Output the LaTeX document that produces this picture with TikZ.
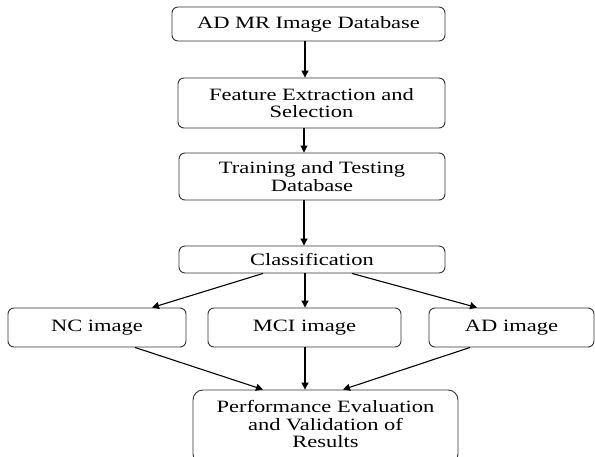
\documentclass[tikz,border=0pt]{standalone}
\usepackage{fontspec}
\setmainfont{Liberation Serif}[FakeStretch=1.3]
\usetikzlibrary{arrows.meta,calc}
\begin{document}
\begin{tikzpicture}[x=1pt,y=-1pt,
  box/.style={draw=black!80,line width=0.9pt,rounded corners=6pt,inner sep=0pt,align=center,
    font=\fontsize{17.3}{17.3}\selectfont},
  arr/.style={line width=1.1pt,-{Triangle[length=7pt,width=7pt]}}]
\clip (0,0) rectangle (595,456);
\fill[white] (0,0) rectangle (595,456);
\node[box,minimum width=273pt,minimum height=34pt] (b1) at (308.5,24) {AD MR Image Database};
\node[box,minimum width=267pt,minimum height=50pt] (b2) at (311.5,103) {Feature Extraction and\\Selection};
\node[box,minimum width=266pt,minimum height=47pt] (b3) at (312,176.5) {Training and Testing\\Database};
\node[box,minimum width=266pt,minimum height=27pt] (cls) at (312,259.5) {Classification};
\node[box,minimum width=178pt,minimum height=39pt] (nc) at (97,327.5) {NC image};
\node[box,minimum width=193pt,minimum height=39pt] (mci) at (304.5,327.5) {MCI image};
\node[box,minimum width=165pt,minimum height=39pt] (ad) at (511.5,327.5) {AD image};
\node[box,rounded corners=10pt,minimum width=265pt,minimum height=74pt,text depth=6pt] (fin) at (325.5,427) {Performance Evaluation\\and Validation of\\Results};
\draw[arr] ([xshift=-3.5pt]b1.south) -- ([xshift=-6.5pt]b2.north);
\draw[arr] ([xshift=-7.5pt]b2.south) -- ([xshift=-8pt]b3.north);
\draw[arr] ([xshift=-8pt]b3.south) -- ([xshift=-8pt]cls.north);
\draw[arr] ([xshift=-49pt]cls.south) -- ([xshift=55pt]nc.north);
\draw[arr] ([xshift=-7pt]cls.south) -- ([xshift=0.5pt]mci.north);
\draw[arr] ([xshift=40pt]cls.south) -- ([xshift=-34.5pt]ad.north);
\draw[arr] ([xshift=38pt]nc.south) -- ([xshift=-62.5pt]fin.north);
\draw[arr] ([xshift=0.5pt]mci.south) -- ([xshift=-20.5pt]fin.north);
\draw[arr] ([xshift=-41.5pt]ad.south) -- ([xshift=17.5pt]fin.north);
\end{tikzpicture}
\end{document}
